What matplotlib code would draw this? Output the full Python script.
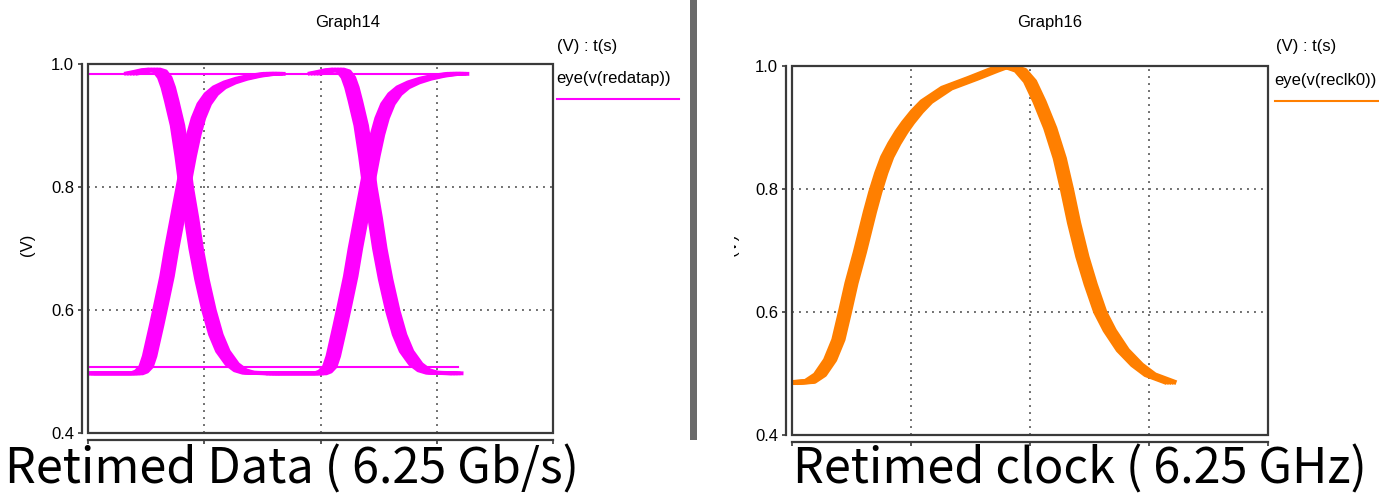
import matplotlib
matplotlib.use("Agg")
import matplotlib.pyplot as plt
from matplotlib.lines import Line2D
from matplotlib.patches import Rectangle
from matplotlib.transforms import Bbox, TransformedBbox

W, H = 1379, 503

# Graph14: retimed data eye, centre line of each edge (time in grid divisions)
DATA_RISE_T = [0.00, 0.42, 0.46, 0.50, 0.53, 0.56, 0.59, 0.63, 0.68, 0.72, 0.77,
               0.82, 0.87, 0.91, 0.95, 1.00, 1.06, 1.13, 1.22, 1.32, 1.44, 1.56, 1.65]
DATA_RISE_V = [0.497, 0.497, 0.500, 0.508, 0.525, 0.55, 0.575, 0.61, 0.655, 0.70, 0.75,
               0.80, 0.85, 0.885, 0.912, 0.935, 0.951, 0.962, 0.970, 0.976, 0.981,
               0.984, 0.984]
DATA_FALL_T = [0.36, 0.44, 0.51, 0.57, 0.62, 0.66, 0.69, 0.72, 0.77, 0.81, 0.845,
               0.89, 0.93, 0.98, 1.04, 1.10, 1.16, 1.24, 1.31, 1.38, 1.60]
DATA_FALL_V = [0.984, 0.987, 0.990, 0.991, 0.988, 0.978, 0.962, 0.94, 0.90, 0.85, 0.80,
               0.75, 0.70, 0.65, 0.60, 0.56, 0.533, 0.512, 0.502, 0.498, 0.497]
DATA_HIGH = 0.984
DATA_LOW = 0.507
DATA_END = 3.18
DATA_UI = 1.58                     # spacing between the two crossings
DATA_JITTER = [-0.05, -0.025, 0.0, 0.025, 0.05]

# Graph16: retimed clock eye
CLK_T = [0.00, 0.15, 0.235, 0.32, 0.39, 0.445, 0.50, 0.57, 0.655, 0.70, 0.75, 0.80,
         0.86, 0.92, 0.975, 1.05, 1.13, 1.30, 1.52, 1.69, 1.76, 1.83, 1.92, 2.00,
         2.08, 2.17, 2.25, 2.31, 2.37, 2.44, 2.51, 2.59, 2.67, 2.78, 2.90, 3.01, 3.19]
CLK_V = [0.485, 0.487, 0.498, 0.522, 0.555, 0.600, 0.647, 0.697, 0.763, 0.795,
         0.826, 0.852, 0.874, 0.893, 0.908, 0.926, 0.942, 0.964, 0.980, 0.993,
         0.998, 0.999, 0.993, 0.975, 0.942, 0.899, 0.850, 0.800, 0.745, 0.690,
         0.645, 0.600, 0.570, 0.538, 0.514, 0.498, 0.485]
CLK_JITTER = [-0.04, -0.02, 0.0, 0.02, 0.04]

X_TICKS = [0, 1, 2, 3, 4]
Y_TICKS = [0.4, 0.6, 0.8, 1.0]
Y_TICK_LABELS = ["0.4", "0.6", "0.8", "1.0"]

MAGENTA = "#ff00ff"
ORANGE = "#ff7f00"
FRAME = "#3a3a3a"
GRID = "#707070"
SMALL = 12


def fx(px):
    return px / W


def fy(py):
    return 1 - py / H


def style_axes(ax):
    ax.set_xlim(0, 4)
    ax.set_ylim(0.4, 1.0)
    ax.set_xticks(X_TICKS)
    ax.set_xticklabels([])
    ax.set_yticks(Y_TICKS)
    ax.set_yticklabels(Y_TICK_LABELS)
    for s in ("top", "right"):
        ax.spines[s].set_visible(False)
    ax.spines["left"].set_position(("outward", 4))
    ax.spines["bottom"].set_position(("outward", 5))
    for s in ("left", "bottom"):
        ax.spines[s].set_color(FRAME)
        ax.spines[s].set_linewidth(1.6)
    ax.tick_params(direction="out", length=3, width=1.2, color=FRAME,
                   labelsize=SMALL, pad=3)
    # dotted grid
    for x in X_TICKS[1:-1]:
        ax.axvline(x, color=GRID, linestyle=(0, (1, 2.6)), linewidth=1.4, zorder=0)
    for y in Y_TICKS[1:-1]:
        ax.axhline(y, color=GRID, linestyle=(0, (1, 2.6)), linewidth=1.4, zorder=0)
    # plot frame
    ax.add_patch(Rectangle((0, 0), 1, 1, transform=ax.transAxes, fill=False,
                           edgecolor=FRAME, linewidth=1.6, clip_on=False, zorder=5))


def draw_band(ax, t, v, jitter, color, lw, shift=0.0):
    # one trace per jitter offset -> thick eye band
    for j in jitter:
        ax.plot([x + j + shift for x in t], v, color=color, linewidth=lw,
                solid_capstyle="butt", solid_joinstyle="round", zorder=2)


def main():
    plt.rcParams["font.family"] = ["Liberation Sans", "DejaVu Sans"]
    fig = plt.figure(figsize=(W / 100, H / 100), dpi=100)

    # ---- left: retimed data ----
    ax1 = fig.add_axes([fx(88), fy(433), fx(553) - fx(88), fy(64) - fy(433)])
    style_axes(ax1)
    ax1.plot([0, DATA_END], [DATA_HIGH, DATA_HIGH], color=MAGENTA, linewidth=1.5, zorder=2)
    ax1.plot([0, DATA_END], [DATA_LOW, DATA_LOW], color=MAGENTA, linewidth=1.5, zorder=2)
    for k in range(2):
        draw_band(ax1, DATA_RISE_T, DATA_RISE_V, DATA_JITTER, MAGENTA, 2.8, k * DATA_UI)
        draw_band(ax1, DATA_FALL_T, DATA_FALL_V, DATA_JITTER, MAGENTA, 2.8, k * DATA_UI)

    # ---- right: retimed clock ----
    ax2 = fig.add_axes([fx(792), fy(435), fx(1268) - fx(792), fy(66) - fy(435)])
    style_axes(ax2)
    draw_band(ax2, CLK_T, CLK_V, CLK_JITTER, ORANGE, 3.4)

    # titles, legends, axis labels
    fig.text(fx(348), fy(22), "Graph14", ha="center", va="center", fontsize=SMALL)
    fig.text(fx(1050), fy(22), "Graph16", ha="center", va="center", fontsize=SMALL)

    fig.text(fx(557), fy(46), "(V) : t(s)", ha="left", va="center", fontsize=SMALL)
    fig.text(fx(556), fy(79), "eye(v(redatap))", ha="left", va="center", fontsize=SMALL)
    fig.add_artist(Line2D([fx(557), fx(679)], [fy(99), fy(99)], color=MAGENTA,
                          linewidth=1.5, transform=fig.transFigure))

    fig.text(fx(1276), fy(47), "(V) : t(s)", ha="left", va="center", fontsize=SMALL)
    fig.text(fx(1274), fy(80), "eye(v(reclk0))", ha="left", va="center", fontsize=SMALL)
    fig.add_artist(Line2D([fx(1275), fx(1379)], [fy(101), fy(101)], color=ORANGE,
                          linewidth=1.5, transform=fig.transFigure))

    fig.text(fx(28), fy(245), "(V)", rotation=90, ha="center", va="center", fontsize=SMALL)
    t = fig.text(fx(731), fy(245), "(V)", rotation=90, ha="center", va="center",
                 fontsize=SMALL)
    t.set_clip_box(TransformedBbox(Bbox([[fx(734), 0], [fx(760), 1]]), fig.transFigure))
    t.set_clip_on(True)

    # separator bar between the two screenshots
    fig.add_artist(Rectangle((fx(690), fy(440)), fx(697) - fx(690), 1 - fy(440),
                             transform=fig.transFigure, facecolor="#6a6a6a",
                             edgecolor="none"))

    # captions
    cap_font = ["Noto Sans CJK KR", "DejaVu Sans"]
    fig.text(fx(5), fy(470), "Retimed Data ( 6.25 Gb/s)", ha="left", va="center",
             fontsize=35, family=cap_font)
    fig.text(fx(793), fy(470), "Retimed clock ( 6.25 GHz)", ha="left", va="center",
             fontsize=35, family=cap_font)

    fig.savefig("out.png", dpi=100)
    plt.close(fig)


if __name__ == "__main__":
    main()
